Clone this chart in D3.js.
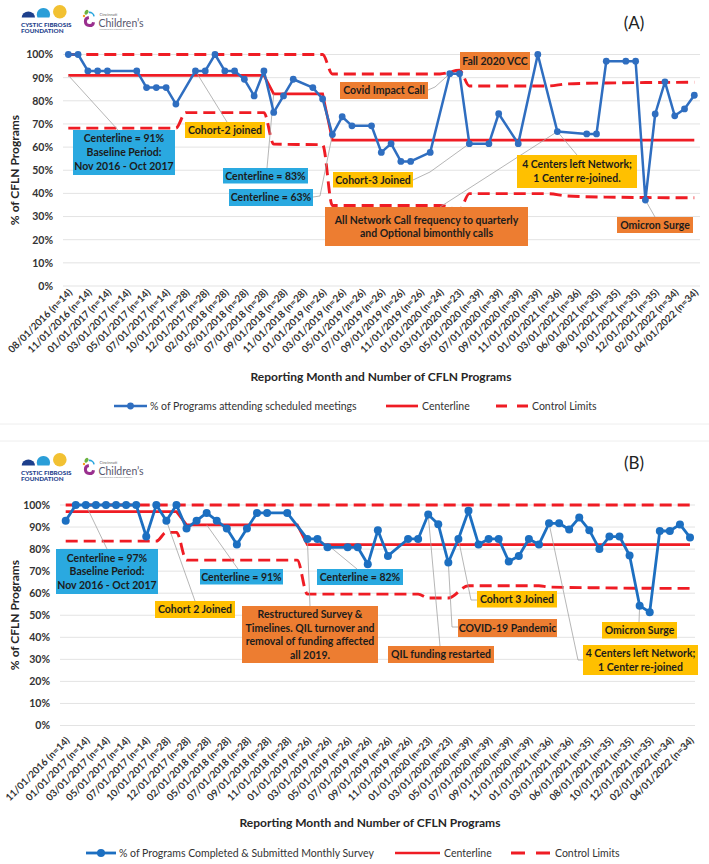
<!DOCTYPE html>
<html><head><meta charset="utf-8">
<script src="https://cdn.jsdelivr.net/npm/d3@7"></script>
<style>body{margin:0;background:#fff} svg{display:block} text{font-family:Lato,"Open Sans",sans-serif}</style>
</head><body><svg id="c" width="709" height="864"></svg>
<script>
// ---------- DATA ----------
const yTicks = [0,10,20,30,40,50,60,70,80,90,100];

const labelsA = ["08/01/2016 (n=14)","11/01/2016 (n=14)","01/01/2017 (n=14)","03/01/2017 (n=14)","05/01/2017 (n=14)","07/01/2017 (n=14)","10/01/2017 (n=28)","12/01/2017 (n=28)","02/01/2018 (n=28)","05/01/2018 (n=28)","07/01/2018 (n=28)","09/01/2018 (n=28)","11/01/2018 (n=28)","01/01/2019 (n=26)","03/01/2019 (n=26)","05/01/2019 (n=26)","07/01/2019 (n=26)","09/01/2019 (n=26)","11/01/2019 (n=26)","01/01/2020 (n=24)","03/01/2020 (n=23)","05/01/2020 (n=39)","07/01/2020 (n=39)","09/01/2020 (n=39)","11/01/2020 (n=39)","01/01/2021 (n=36)","03/01/2021 (n=36)","06/01/2021 (n=35)","08/01/2021 (n=35)","10/01/2021 (n=35)","12/01/2021 (n=35)","02/01/2022 (n=34)","04/01/2022 (n=34)"];
// % of programs attending scheduled meetings, one entry per reporting month (null = not reported)
const valuesA = [100,100,92.9,92.9,92.9,null,null,92.9,85.7,85.7,
  85.7,78.6,null,92.9,92.9,100,92.9,92.9,89.3,82.1,
  92.9,75,82.1,89.3,null,85.7,80.8,65.4,73.1,69.2,
  null,69.2,57.7,61.5,53.8,53.8,null,57.7,null,91.7,
  91.7,61.5,null,61.5,74.4,null,61.5,null,100,null,
  66.7,null,null,65.7,65.7,97.1,null,97.1,97.1,37.1,
  74.3,88.2,73.5,76.5,82.4];
// [month index, value] breakpoints
const centerA = [[0,91],[20,91],[21,83],[26,83],[27,63],[64,63]];
const uclA = [[0,100],[26,100],[27,91.6],[38,91.6],[40,93.2],[41,86.4],[49,86.4],[51,87.3],[55,87.7],[64,88]];
const lclA = [[0,68.2],[11,68.2],[12,74.9],[20,74.9],[21,61.3],[26,61],[27,34.8],[38,34.8],[40,33],[41,39.9],[49,39.9],[51,38.9],[55,38.4],[64,38.1]];

const labelsB = ["11/01/2016 (n=14)","01/01/2017 (n=14)","03/01/2017 (n=14)","05/01/2017 (n=14)","07/01/2017 (n=14)","10/01/2017 (n=28)","12/01/2017 (n=28)","02/01/2018 (n=28)","05/01/2018 (n=28)","07/01/2018 (n=28)","09/01/2018 (n=28)","11/01/2018 (n=28)","01/01/2019 (n=26)","03/01/2019 (n=26)","05/01/2019 (n=26)","07/01/2019 (n=26)","09/01/2019 (n=26)","11/01/2019 (n=26)","01/01/2020 (n=23)","03/01/2020 (n=23)","05/01/2020 (n=39)","07/01/2020 (n=39)","09/01/2020 (n=39)","11/01/2020 (n=39)","01/01/2021 (n=36)","03/01/2021 (n=36)","06/01/2021 (n=35)","08/01/2021 (n=35)","10/01/2021 (n=35)","12/01/2021 (n=35)","02/01/2022 (n=34)","04/01/2022 (n=34)"];
// % of programs completed & submitted monthly survey
const valuesB = [92.9,100,100,100,100,100,100,100,85.7,100,
  92.9,100,89.3,92.9,96.4,92.9,89.3,82.1,89.3,96.4,
  96.4,null,96.4,null,84.6,84.6,80.8,null,80.8,80.8,
  73.1,88.5,76.9,null,84.6,84.6,95.7,91.3,73.9,84.6,
  97.4,82.1,84.6,84.6,74.4,76.9,84.6,82.1,91.7,91.7,
  88.9,94.3,88.6,80,85.7,85.7,77.1,54.3,51.4,88.2,
  88.2,91.2,85.3];
const centerB = [[0,97],[11,97],[12,91],[23,91],[24,82],[62,82]];
const uclB = [[0,100],[62,100]];
const lclB = [[0,83.6],[9,83.6],[10,87.6],[11,87.6],[12,75],[23,75],[24,59.6],[35,59.6],[36,57.8],[38,57.8],[40,63.4],[47,63.4],[48,62.8],[52,62.5],[60,62.2],[62,62.2]];

const legendA = ["% of Programs attending scheduled meetings","Centerline","Control Limits"];
const legendB = ["% of Programs Completed & Submitted Monthly Survey","Centerline","Control Limits"];

// ---------- DRAW ----------
const svg = d3.select("#c");
const RED = "#ef1c24", BLUEBOX = "#2aa9e0", YEL = "#ffc000", ORG = "#ed7d31", GRAY = "#a3a3a3";

function logo(dy){
  const g = svg.append("g").attr("transform",`translate(0,${dy})`);
  g.append("path").attr("d","M21.7,17.5 A6.6,6 0 0 1 35,17.5 Z").attr("fill","#1d3f8c");
  g.append("path").attr("d","M37.5,17.5 A6.6,6.6 0 1 1 49.3,17.5 Z").attr("fill","#2a9ed8");
  g.append("circle").attr("cx",59.8).attr("cy",11.8).attr("r",6.8).attr("fill","#f2c132");
  g.append("text").attr("x",21).attr("y",27).attr("font-size",6.3).attr("font-weight",900).attr("fill","#1d3f8c").text("CYSTIC FIBROSIS");
  g.append("text").attr("x",21).attr("y",32.5).attr("font-size",6.3).attr("font-weight",900).attr("fill","#1d3f8c").text("FOUNDATION");
  g.append("path").attr("d",d3.arc()({innerRadius:2.6,outerRadius:5.6,startAngle:Math.PI*0.55,endAngle:Math.PI*1.95})).attr("transform","translate(89.5,21.5)").attr("fill","#9a2f8e");
  g.append("path").attr("d",d3.arc()({innerRadius:3.8,outerRadius:5.4,startAngle:-Math.PI*0.05,endAngle:Math.PI*0.45})).attr("transform","translate(89.5,17)").attr("fill","#2aa6de");
  g.append("ellipse").attr("cx",86.5).attr("cy",12.2).attr("rx",1.8).attr("ry",2.6).attr("transform","rotate(30,86.5,12.2)").attr("fill","#6db33f");
  g.append("circle").attr("cx",84).attr("cy",16).attr("r",1.2).attr("fill","#f39a1e");
  g.append("text").attr("x",99.5).attr("y",16).attr("font-size",4).attr("fill","#666").text("Cincinnati");
  g.append("text").attr("x",98.5).attr("y",26.5).attr("font-size",10.5).attr("fill","#58586e").text("Children\u2019s");
  g.append("text").attr("x",99.5).attr("y",29.6).attr("font-size",2.4).attr("fill","#888").text("changing the outcome together");
}

function box(g,x,y,w,h,fill,lines,fs,lh){
  fs = fs||10.5; lh = lh||fs*1.32;
  g.append("rect").attr("x",x).attr("y",y).attr("width",w).attr("height",h).attr("fill",fill);
  const n = lines.length, cy = y+h/2;
  lines.forEach((t,k)=>g.append("text").attr("x",x+w/2).attr("y",cy+(k-(n-1)/2)*lh+fs*0.36)
    .attr("text-anchor","middle").attr("font-size",fs).attr("font-weight",700).attr("fill","#1c1c1c").text(t));
}
function conn(g,pts){
  g.append("path").attr("d",d3.line()(pts)).attr("fill","none").attr("stroke",GRAY).attr("stroke-width",0.8);
}

function panel(c){
  const g = svg.append("g");
  const x = d3.scaleLinear().domain([0,c.values.length-1]).range(c.xr);
  const y = d3.scaleLinear().domain([0,100]).range(c.yr);
  g.append("g").selectAll("line").data(yTicks).join("line")
    .attr("x1",c.gx[0]).attr("x2",c.gx[1]).attr("y1",d=>y(d)).attr("y2",d=>y(d))
    .attr("stroke","#e3e3e3").attr("stroke-width",1);
  const ya = d3.axisLeft(y).tickValues(yTicks).tickFormat(d=>d+"%").tickSize(0).tickPadding(0);
  const yg = g.append("g").attr("transform",`translate(${c.ytx},0)`).call(ya);
  yg.select(".domain").remove();
  yg.selectAll("text").attr("font-size",10.5).attr("font-weight",700).attr("fill","#333").attr("font-family","Lato");
  const xa = d3.axisBottom(x).tickValues(c.labels.map((d,i)=>i*2)).tickFormat((d)=>c.labels[d/2]).tickSize(0);
  const xg = g.append("g").attr("transform",`translate(0,${c.xly})`).call(xa);
  xg.select(".domain").remove();
  xg.selectAll(".tick text").attr("font-size",9.9).attr("font-weight",700).attr("fill","#333").attr("font-family","Lato")
    .attr("text-anchor","end").attr("dy",0).attr("y",0).attr("transform","translate(4,0) rotate(-45)");
  g.append("text").attr("transform",`translate(${c.yt[0]},${c.yt[1]}) rotate(-90)`).attr("text-anchor","middle")
    .attr("font-size",12).attr("font-weight",700).attr("fill","#262626").text("% of CFLN Programs");
  g.append("text").attr("x",c.xt[0]).attr("y",c.xt[1]).attr("text-anchor","middle")
    .attr("font-size",12).attr("font-weight",700).attr("fill","#262626").text("Reporting Month and Number of CFLN Programs");
  const bl = d3.line().x(d=>x(d[0])).y(d=>y(d[1])).curve(d3.curveMonotoneX);
  [c.ucl,c.lcl].forEach(L=>g.append("path").attr("d",bl(L)).attr("fill","none").attr("stroke",RED)
    .attr("stroke-width",c.dw).attr("stroke-dasharray",c.dash));
  g.append("path").attr("d",d3.line().x(d=>x(d[0])).y(d=>y(d[1]))(c.center)).attr("fill","none").attr("stroke",RED).attr("stroke-width",c.cw);
  const P = i=>[x(i),y(c.values[i])];
  c.conns(g,x,y,P);
  const pts = c.values.map((v,i)=>[i,v]).filter(d=>d[1]!==null);
  g.append("path").attr("d",d3.line().x(d=>x(d[0])).y(d=>y(d[1]))(pts)).attr("fill","none")
    .attr("stroke",c.lc).attr("stroke-width",c.lw).attr("stroke-linejoin","round");
  g.append("g").selectAll("circle").data(pts).join("circle").attr("cx",d=>x(d[0])).attr("cy",d=>y(d[1])).attr("r",c.r).attr("fill",c.lc);
  c.boxes(g);
  const L = c.leg, ly = L.y;
  g.append("line").attr("x1",L.a[0]).attr("x2",L.a[1]).attr("y1",ly).attr("y2",ly).attr("stroke",c.lc).attr("stroke-width",c.lw);
  g.append("circle").attr("cx",(L.a[0]+L.a[1])/2).attr("cy",ly).attr("r",c.r).attr("fill",c.lc);
  g.append("line").attr("x1",L.b[0]).attr("x2",L.b[1]).attr("y1",ly).attr("y2",ly).attr("stroke",RED).attr("stroke-width",c.cw);
  g.append("line").attr("x1",L.c[0]).attr("x2",L.c[1]).attr("y1",ly).attr("y2",ly).attr("stroke",RED).attr("stroke-width",c.dw).attr("stroke-dasharray",L.cd);
  [[L.a[1]+3,c.legend[0]],[L.b[1]+4,c.legend[1]],[L.c[1]+4,c.legend[2]]].forEach(d=>
    g.append("text").attr("x",d[0]).attr("y",ly+3.8).attr("font-size",L.fs).attr("fill","#333").text(d[1]));
  svg.append("text").attr("x",634).attr("y",c.tagY).attr("text-anchor","middle").attr("font-family","Liberation Sans")
    .attr("font-size",17).attr("fill","#222").text(c.tag);
}

logo(0);
logo(448);
svg.append("line").attr("x1",0).attr("x2",709).attr("y1",424).attr("y2",424).attr("stroke","#eeeeee");
svg.append("line").attr("x1",0).attr("x2",709).attr("y1",441).attr("y2",441).attr("stroke","#eeeeee");

panel({
  values:valuesA, labels:labelsA, center:centerA, ucl:uclA, lcl:lclA, legend:legendA, tag:"(A)", tagY:29,
  xr:[68.3,694.3], yr:[286,54.5], gx:[63,700], ytx:53, xly:293, yt:[19,170], xt:[381,381],
  lc:"#2f6ec0", lw:2.5, r:3.4, cw:2.7, dw:2.9, dash:"12,6",
  leg:{y:406,a:[114,147],b:[386,418],c:[496,528],cd:"11,10",fs:10.5},
  conns:(g,x,y,P)=>{
    conn(g,[[118,130],[x(0),y(91)]]);
    conn(g,[[227,122],P(13)]);
    conn(g,[[267,168],[x(21),y(83)]]);
    conn(g,[[313,197],[320,196],P(27)]);
    conn(g,[[413,180],[430,172],P(41)]);
    conn(g,[[428,90],[435,87],P(39)]);
    conn(g,[[577,155],P(50)]);
    conn(g,[[440,207],P(50)]);
    conn(g,[[655,217],P(59)]);
  },
  boxes:g=>{
    box(g,73,130,102,45,BLUEBOX,["Centerline = 91%","Baseline Period:","Nov 2016 - Oct 2017"],10.5,14.2);
    box(g,185,122,80,16,YEL,["Cohort-2 joined"]);
    box(g,223,168,85,15.5,BLUEBOX,["Centerline = 83%"]);
    box(g,229,189,84,17,BLUEBOX,["Centerline = 63%"]);
    box(g,333,172,80,15.5,YEL,["Cohort-3 Joined"]);
    box(g,340,82,88,17,ORG,["Covid Impact Call"]);
    box(g,460,52,70,18,ORG,["Fall 2020 VCC"]);
    box(g,517,155,120,33,YEL,["4 Centers left Network;","1 Center re-joined."],10.5,14);
    box(g,325,207,203,39,ORG,["All Network Call frequency to quarterly","and Optional bimonthly calls"],10.5,13.5);
    box(g,617,217,76,16,ORG,["Omicron Surge"]);
  }
});

panel({
  values:valuesB, labels:labelsB, center:centerB, ucl:uclB, lcl:lclB, legend:legendB, tag:"(B)", tagY:469,
  xr:[65.7,690], yr:[725.5,505], gx:[60,695], ytx:50, xly:741, yt:[19,615], xt:[370,827],
  lc:"#1c6fc1", lw:2.8, r:4, cw:2.7, dw:2.9, dash:"12,6",
  leg:{y:853,a:[86,116],b:[395,440],c:[511,551],cd:"14,11",fs:10.5},
  conns:(g,x,y,P)=>{
    conn(g,[[107,549],P(2)]);
    conn(g,[[195,601],P(10)]);
    conn(g,[[238,569],[x(14),y(91)]]);
    conn(g,[[357,569],[x(26),y(82)]]);
    conn(g,[[310,606],P(24)]);
    conn(g,[[440,646],P(36)]);
    conn(g,[[458,627],[452,627],P(38)]);
    conn(g,[[477,600],[471,600],P(39)]);
    conn(g,[[639,622],P(57)]);
    conn(g,[[583,660],[578,660],P(48)]);
  },
  boxes:g=>{
    box(g,56,549,102,45,BLUEBOX,["Centerline = 97%","Baseline Period:","Nov 2016 - Oct 2017"],10.5,13.5);
    box(g,155,601,80,17,YEL,["Cohort 2 Joined"]);
    box(g,200,569,83,15.5,BLUEBOX,["Centerline = 91%"]);
    box(g,317,569,86,16,BLUEBOX,["Centerline = 82%"]);
    box(g,242,606,136,57,ORG,["Restructured Survey &","Timelines. QIL turnover and","removal of funding affected","all 2019."],10.5,13.5);
    box(g,388,646,106,17,ORG,["QIL funding restarted"]);
    box(g,458,619,99,18,ORG,["COVID-19 Pandemic"]);
    box(g,477,591,80,16.5,YEL,["Cohort 3 Joined"]);
    box(g,602,622,75,16.5,YEL,["Omicron Surge"]);
    box(g,583,645,115,30,YEL,["4 Centers left Network;","1 Center re-joined"],10.5,13.5);
  }
});
</script></body></html>
